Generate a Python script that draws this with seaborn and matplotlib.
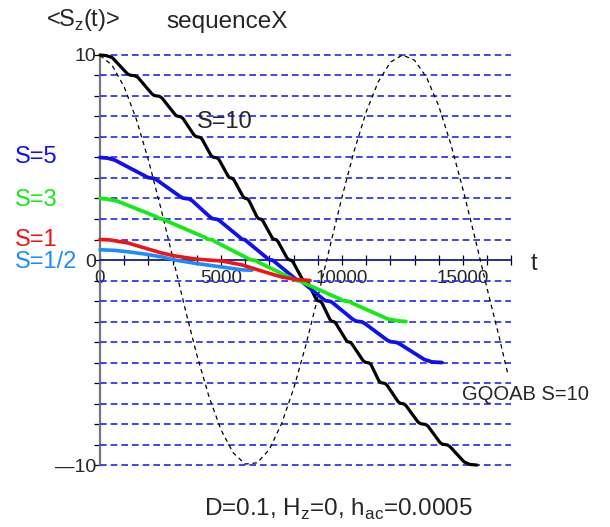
import pandas as pd
import matplotlib
matplotlib.use("Agg")
import matplotlib.pyplot as plt
import seaborn as sns

# ---- data ------------------------------------------------------------------------
# S=10 (black): start, 4 points on every plateau, end
s10_t = [0, 250, 500,
         1116, 1229, 1457, 1570, 2149, 2252, 2459, 2562, 3099, 3182, 3347, 3430,
         3884, 3967, 4132, 4215, 4587, 4670, 4834, 4917, 5289, 5351, 5475, 5537,
         5909, 5971, 6095, 6157, 6487, 6549, 6673, 6735, 7107, 7169, 7293, 7355,
         7727, 7789, 7913, 7975, 8347, 8409, 8533, 8595, 8925, 8987, 9111, 9173,
         9504, 9566, 9690, 9752, 10165, 10227, 10351, 10413, 10867, 10950, 11115, 11198,
         11528, 11611, 11776, 11859, 12313, 12396, 12561, 12644, 13140, 13243, 13450, 13553,
         14049, 14152, 14359, 14462,
         15050, 15290, 15578]
s10_sz = [10, 9.97, 9.88,
          9.1, 9.02, 8.98, 8.9, 8.1, 8.02, 7.98, 7.9, 7.1, 7.02, 6.98, 6.9,
          6.1, 6.02, 5.98, 5.9, 5.1, 5.02, 4.98, 4.9, 4.1, 4.02, 3.98, 3.9,
          3.1, 3.02, 2.98, 2.9, 2.1, 2.02, 1.98, 1.9, 1.1, 1.02, 0.98, 0.9,
          0.1, 0.02, -0.02, -0.1, -0.9, -0.98, -1.02, -1.1, -1.9, -1.98, -2.02, -2.1,
          -2.9, -2.98, -3.02, -3.1, -3.9, -3.98, -4.02, -4.1, -4.9, -4.98, -5.02, -5.1,
          -5.9, -5.98, -6.02, -6.1, -6.9, -6.98, -7.02, -7.1, -7.9, -7.98, -8.02, -8.1,
          -8.9, -8.98, -9.02, -9.1,
          -9.85, -9.97, -10]
# S=5 (blue)
s5_t = [0, 300, 600,
        1860, 1984, 2231, 2355, 3306, 3430, 3678, 3802, 4545, 4648, 4855, 4958,
        5785, 5857, 6002, 6074, 6900, 6983, 7148, 7231, 8057, 8140, 8305, 8388,
        9214, 9317, 9525, 9628, 10454, 10578, 10826, 10950, 11859, 11993, 12262, 12396,
        13400, 13718, 14132]
s5_sz = [5, 4.97, 4.88,
         4.1, 4.02, 3.98, 3.9, 3.1, 3.02, 2.98, 2.9, 2.1, 2.02, 1.98, 1.9,
         1.1, 1.02, 0.98, 0.9, 0.1, 0.02, -0.02, -0.1, -0.9, -0.98, -1.02, -1.1,
         -1.9, -1.98, -2.02, -2.1, -2.9, -2.98, -3.02, -3.1, -3.9, -3.98, -4.02, -4.1,
         -4.85, -4.97, -5]
# S=3 (green)
s3_t = [0, 300, 700,
        2355, 2458, 2665, 2768, 4339, 4442, 4649, 4752, 6074, 6188, 6415, 6529,
        7934, 8048, 8274, 8388, 9917, 10041, 10289, 10413,
        11900, 12313, 12644]
s3_sz = [3, 2.97, 2.88,
         2.1, 2.02, 1.98, 1.9, 1.1, 1.02, 0.98, 0.9, 0.1, 0.02, -0.02, -0.1,
         -0.9, -0.98, -1.02, -1.1, -1.9, -1.98, -2.02, -2.1,
         -2.88, -2.97, -3]
# S=1 (red)
s1_t = [0, 400, 1160, 1860, 2560, 3100, 3930, 5040, 5870, 6690, 7520, 8100, 8680]
s1_sz = [1, 0.98, 0.83, 0.58, 0.34, 0.2, 0.05, -0.05, -0.24, -0.54, -0.83, -0.95, -1.0]
# S=1/2 (light blue)
shalf_t = [0, 600, 1160, 1860, 2560, 3100, 3930, 5040, 5870, 6280]
shalf_sz = [0.5, 0.47, 0.4, 0.29, 0.15, 0.0, -0.16, -0.34, -0.48, -0.5]
# GQOAB S=10 (thin dashed)
gq_t = [0, 500, 1000, 1500, 2000, 2500, 3000, 3500, 4000, 4500, 5000, 5500, 6000, 6500,
        7000, 7500, 8000, 8500, 9000, 9500, 10000, 10500, 11000, 11500, 12000, 12500, 13000,
        13500, 14000, 14500, 15000, 15500, 16000, 16500, 16860]
gq_sz = [9.98, 9.5, 8.44, 6.87, 4.88, 2.59, 0.16, -2.3, -4.62, -6.65, -8.28, -9.4, -9.95, -9.89,
         -9.23, -7.99, -6.28, -4.18, -1.82, 0.65, 3.07, 5.31, 7.23, 8.7, 9.65, 10.0, 9.74,
         8.89, 7.5, 5.64, 3.44, 1.05, -1.41, -3.78, -5.6]

levels = list(range(-10, 11))
x_major = [0, 5000, 10000, 15000]
x_major_labels = ["0", "5000", "10000", "15000"]
x_minor = list(range(0, 18000, 1000))
t_end = 17000

# ---- style -----------------------------------------------------------------------
sns.set_style("ticks")
plt.rcParams["font.family"] = ["Liberation Sans", "DejaVu Sans"]
plt.rcParams["mathtext.fontset"] = "custom"
plt.rcParams["mathtext.rm"] = "Liberation Sans"

fig = plt.figure(figsize=(6.1, 5.27), dpi=100)
ax = fig.add_axes([0, 0, 1, 1])
ax.set_xlim(-4132, 21074)
ax.set_ylim(-13.02, 12.68)

# blue dashed level lines
ax.hlines(levels, 0, t_end, colors="#2424ff", lw=1.2, linestyles=[(0, (4, 2.4))], zorder=3)

# curves
sns.lineplot(x=gq_t, y=gq_sz, ax=ax, color="black", lw=0.9, linestyle=(0, (3.5, 3)),
             estimator=None, sort=False, zorder=3.5)
curves = [
    (s10_t, s10_sz, "black", 2.3),
    (s5_t, s5_sz, "#1010ee", 2.7),
    (s3_t, s3_sz, "#14ea14", 2.7),
    (shalf_t, shalf_sz, "#1a8cff", 2.6),
    (s1_t, s1_sz, "#f01414", 2.6),
]
for (tt, sz, col, lw) in curves:
    df = pd.DataFrame({"t": tt, "sz": sz})
    sns.lineplot(data=df, x="t", y="sz", ax=ax, color=col, lw=lw,
                 estimator=None, sort=False, zorder=4,
                 solid_joinstyle="round", solid_capstyle="round")

ax.set_xlabel("")
ax.set_ylabel("")

# axes at the origin
for side in ["top", "right"]:
    ax.spines[side].set_visible(False)
ax.spines["left"].set_position(("data", 0))
ax.spines["left"].set_bounds(-10, 10)
ax.spines["left"].set_color("#777777")
ax.spines["left"].set_linewidth(1.6)
ax.spines["bottom"].set_position(("data", 0))
ax.spines["bottom"].set_bounds(0, t_end)
ax.spines["bottom"].set_color("black")
ax.spines["bottom"].set_linewidth(1.1)

ax.set_xticks(x_major)
ax.set_xticklabels(x_major_labels)
ax.set_xticks(x_minor, minor=True)
ax.tick_params(axis="x", which="both", direction="inout", length=7.5, width=0.9,
               color="black", pad=3.5, labelsize=13.5, bottom=True)
ax.set_yticks(levels)
ax.set_yticklabels(["\u201410" if v == -10 else ("10" if v == 10 else ("0" if v == 0 else ""))
                    for v in levels])
ax.tick_params(axis="y", direction="out", length=4.5, width=0.9, color="black",
               pad=-2, labelsize=14, left=True)

# texts
ax.text(-702, 11.71, r"<S$_\mathregular{z}$(t)>", fontsize=17, ha="center", va="center")
ax.text(2730, 11.6, "sequenceX", fontsize=17.5, ha="left", va="center")
ax.text(4008, 6.73, "S=10", fontsize=17, ha="left", va="center")
ax.text(-3512, 5.02, "S=5", fontsize=17, ha="left", va="center", color="#1010ee")
ax.text(-3512, 2.93, "S=3", fontsize=17, ha="left", va="center", color="#14ea14")
ax.text(-3512, 0.98, "S=1", fontsize=17, ha="left", va="center", color="#f01414")
ax.text(-3512, -0.1, "S=1/2", fontsize=17, ha="left", va="center", color="#1a8cff")
ax.text(17933, -0.2, "t", fontsize=17, ha="center", va="center")
ax.text(14958, -6.54, "GQOAB S=10", fontsize=14.5, ha="left", va="center")
ax.text(9834, -12.15, r"D=0.1, H$_\mathregular{z}$=0, h$_\mathregular{ac}$=0.0005",
        fontsize=17.5, ha="center", va="center")

plt.savefig("out.png", dpi=100)
plt.close()
